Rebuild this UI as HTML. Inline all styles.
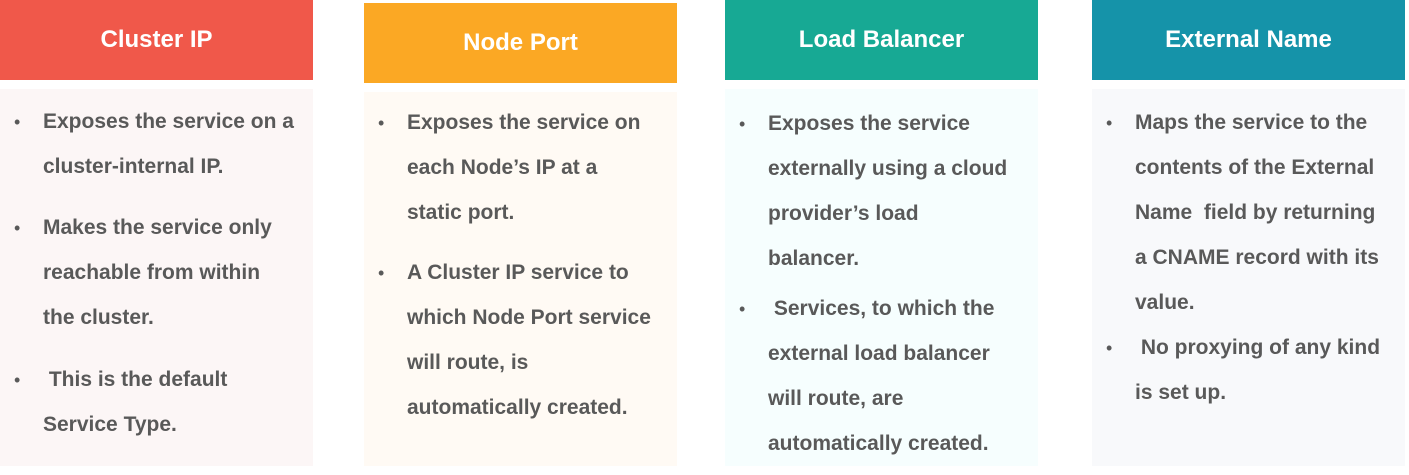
<!DOCTYPE html>
<html><head><meta charset="utf-8"><style>
body{margin:0;width:1409px;height:475px;background:#fff;position:relative;overflow:hidden;font-family:"Liberation Sans",sans-serif;}
.h{position:absolute;height:80px;width:313px;color:#fff;font-weight:bold;font-size:24px;display:flex;align-items:center;justify-content:center;}
.b{position:absolute;width:313px;}
.l{position:absolute;font-weight:bold;font-size:21px;color:#595959;white-space:nowrap;line-height:24px;}
.d{position:absolute;font-size:18px;color:#595959;line-height:24px;}
</style></head><body>
<div class="h" style="left:0;top:0;background:#F0584A">Cluster IP</div>
<div class="b" style="left:0;top:89px;height:377px;background:#FCF6F6"></div>
<div class="h" style="left:364px;top:3px;background:#FBA824">Node Port</div>
<div class="b" style="left:364px;top:92px;height:374px;background:#FFFAF4"></div>
<div class="h" style="left:725px;top:0;background:#17A994">Load Balancer</div>
<div class="b" style="left:725px;top:89px;height:377px;background:#F6FEFE"></div>
<div class="h" style="left:1092px;top:0;background:#1593A9">External Name</div>
<div class="b" style="left:1092px;top:89px;height:377px;background:#F8F9FB"></div>

<div class="d" style="left:14px;top:110px">•</div>
<div class="l" style="left:43px;top:110px">Exposes the service on a</div>
<div class="l" style="left:43px;top:155px">cluster-internal IP.</div>
<div class="d" style="left:14px;top:216px">•</div>
<div class="l" style="left:43px;top:216px">Makes the service only</div>
<div class="l" style="left:43px;top:261px">reachable from within</div>
<div class="l" style="left:43px;top:306px">the cluster.</div>
<div class="d" style="left:14px;top:368px">•</div>
<div class="l" style="left:43px;top:368px">&nbsp;This is the default</div>
<div class="l" style="left:43px;top:413px">Service Type.</div>

<div class="d" style="left:378px;top:111px">•</div>
<div class="l" style="left:407px;top:111px">Exposes the service on</div>
<div class="l" style="left:407px;top:156px">each Node’s IP at a</div>
<div class="l" style="left:407px;top:201px">static port.</div>
<div class="d" style="left:378px;top:261px">•</div>
<div class="l" style="left:407px;top:261px">A Cluster IP service to</div>
<div class="l" style="left:407px;top:306px">which Node Port service</div>
<div class="l" style="left:407px;top:351px">will route, is</div>
<div class="l" style="left:407px;top:396px">automatically created.</div>

<div class="d" style="left:739px;top:112px">•</div>
<div class="l" style="left:768px;top:112px">Exposes the service</div>
<div class="l" style="left:768px;top:157px">externally using a cloud</div>
<div class="l" style="left:768px;top:202px">provider’s load</div>
<div class="l" style="left:768px;top:247px">balancer.</div>
<div class="d" style="left:739px;top:297px">•</div>
<div class="l" style="left:768px;top:297px">&nbsp;Services, to which the</div>
<div class="l" style="left:768px;top:342px">external load balancer</div>
<div class="l" style="left:768px;top:387px">will route, are</div>
<div class="l" style="left:768px;top:432px">automatically created.</div>

<div class="d" style="left:1106px;top:111px">•</div>
<div class="l" style="left:1135px;top:111px">Maps the service to the</div>
<div class="l" style="left:1135px;top:156px">contents of the External</div>
<div class="l" style="left:1135px;top:201px">Name &nbsp;field by returning</div>
<div class="l" style="left:1135px;top:246px">a CNAME record with its</div>
<div class="l" style="left:1135px;top:291px">value.</div>
<div class="d" style="left:1106px;top:336px">•</div>
<div class="l" style="left:1135px;top:336px">&nbsp;No proxying of any kind</div>
<div class="l" style="left:1135px;top:381px">is set up.</div>
</body></html>
